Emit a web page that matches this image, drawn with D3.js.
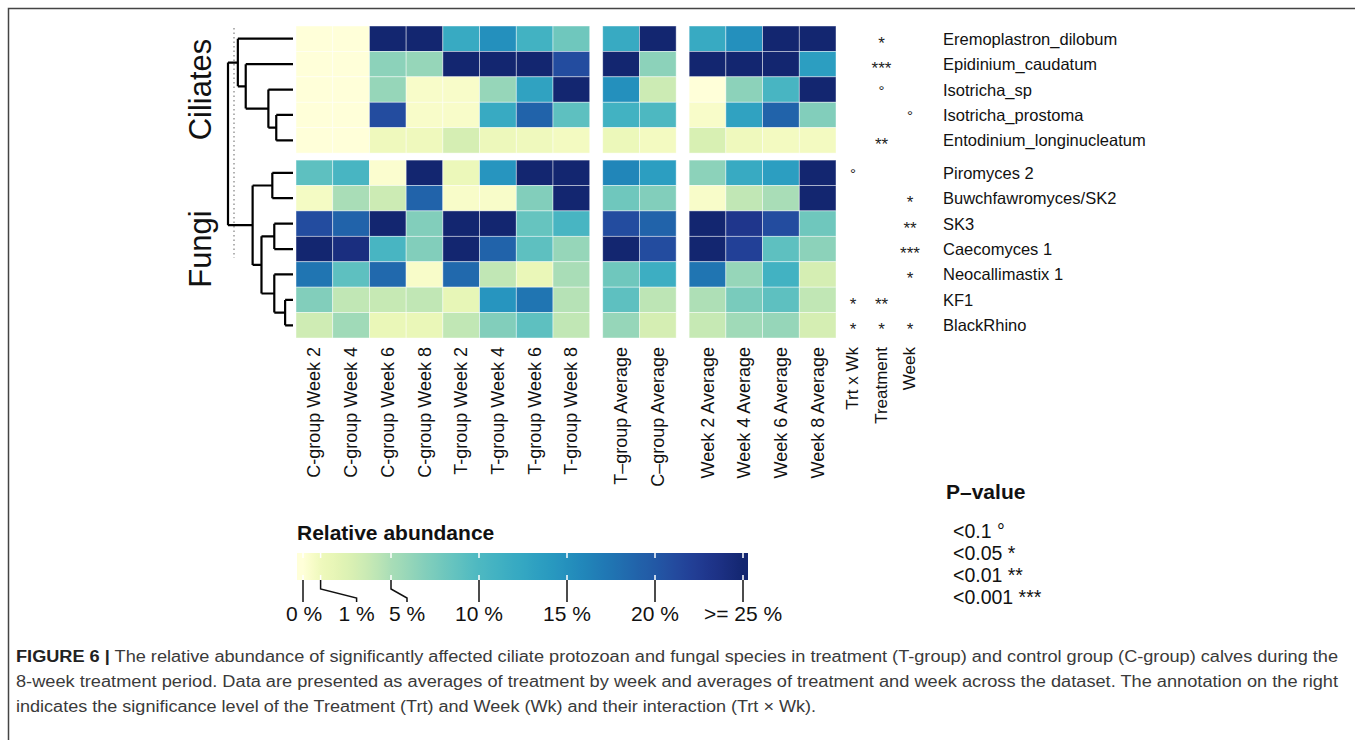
<!DOCTYPE html>
<html>
<head>
<meta charset="utf-8">
<script src="https://cdn.jsdelivr.net/npm/d3@7"></script>
<style>
  body { margin: 0; background: #fff; }
  text { font-family: "Liberation Sans", Arial, Helvetica, sans-serif; }
</style>
</head>
<body>
<div id="chart"></div>
<script>
// species (rows), top to bottom
const species = [
  "Eremoplastron_dilobum", "Epidinium_caudatum", "Isotricha_sp", "Isotricha_prostoma",
  "Entodinium_longinucleatum", "Piromyces 2", "Buwchfawromyces/SK2", "SK3",
  "Caecomyces 1", "Neocallimastix 1", "KF1", "BlackRhino"
];
const groups = ["Ciliates", "Fungi"];
const speciesGroup = [0, 0, 0, 0, 0, 1, 1, 1, 1, 1, 1, 1];

// columns and the block each belongs to
const columns = [
  "C-group Week 2", "C-group Week 4", "C-group Week 6", "C-group Week 8",
  "T-group Week 2", "T-group Week 4", "T-group Week 6", "T-group Week 8",
  "T\u2013group Average", "C\u2013group Average",
  "Week 2 Average", "Week 4 Average", "Week 6 Average", "Week 8 Average"
];
const columnBlock = [0, 0, 0, 0, 0, 0, 0, 0, 1, 1, 2, 2, 2, 2];

// relative abundance (%) (capped at 25)
const abundance = [
  [0, 0, 25, 25, 12, 15, 11, 8,     12, 25,    12, 15, 25, 25],
  [0, 0, 6.5, 6, 25, 25, 25, 21,    25, 6.5,   25, 25, 25, 13.5],
  [0, 0, 6, 0.5, 0.5, 6, 13, 25,    15, 3.5,   0, 6.5, 10.5, 25],
  [0, 0, 21, 0.5, 0.5, 12, 19, 9,   11, 10,    0.5, 13, 19, 7],
  [0, 0, 1, 1, 3, 1.2, 1, 0.8,      1.3, 0.8,  2.8, 1, 0.8, 0.8],
  [9, 10.5, 0.3, 25, 1.3, 14.5, 25, 25,  16, 13.5,  6.5, 12, 13.5, 25],
  [0.7, 5, 3.5, 19, 0.5, 0.5, 7, 25,     8, 7,      0.5, 4, 5, 25],
  [21, 19, 25, 7, 25, 25, 8.5, 10.5,     21, 19,    25, 23, 21, 8],
  [25, 24, 10.5, 7, 25, 19, 9, 6,        25, 21,    25, 22, 9, 6.5],
  [17.5, 9, 18.5, 0.5, 18.5, 4, 1.5, 5,  8, 11.5,   17.5, 6, 11, 3],
  [7, 4, 3.8, 4, 1.7, 14.5, 17.5, 4.5,   9, 4.2,    4.8, 7.5, 9, 4],
  [3.3, 5.5, 1.5, 1.5, 4, 7, 9, 4,       6, 3,      3.8, 5.5, 6, 3]
];

// significance annotations
const sigColumns = ["Trt x Wk", "Treatment", "Week"];
const sigTrtWk =     ["", "", "", "", "", "\u00b0", "", "", "", "", "*", "*"];
const sigTreatment = ["*", "***", "\u00b0", "", "**", "", "", "", "", "", "**", "*"];
const sigWeek =      ["", "", "", "\u00b0", "", "", "*", "**", "***", "*", "", "*"];

// dendrogram: merge heights, leaves by name
const tree = { h: 66, children: [
  { h: 56, children: [
    { name: "Eremoplastron_dilobum" },
    { h: 48, children: [
      { name: "Epidinium_caudatum" },
      { h: 25, children: [
        { name: "Isotricha_sp" },
        { h: 17, children: [{ name: "Isotricha_prostoma" }, { name: "Entodinium_longinucleatum" }] }
      ] }
    ] }
  ] },
  { h: 41, children: [
    { h: 21, children: [{ name: "Piromyces 2" }, { name: "Buwchfawromyces/SK2" }] },
    { h: 32, children: [
      { h: 19, children: [{ name: "SK3" }, { name: "Caecomyces 1" }] },
      { h: 19, children: [
        { name: "Neocallimastix 1" },
        { h: 8, children: [{ name: "KF1" }, { name: "BlackRhino" }] }
      ] }
    ] }
  ] }
] };

// legend
const legendTicks = [0, 1, 5, 10, 15, 20, 25];
const legendLabels = ["0 %", "1 %", "5 %", "10 %", "15 %", "20 %", ">= 25 %"];
const pTitle = "P\u2013value";
const pLabels = ["<0.1 \u00b0", "<0.05 *", "<0.01 **", "<0.001 ***"];

const captionLines = [
  " The relative abundance of significantly affected ciliate protozoan and fungal species in treatment (T-group) and control group (C-group) calves during the",
  "8-week treatment period. Data are presented as averages of treatment by week and averages of treatment and week across the dataset. The annotation on the right",
  "indicates the significance level of the Treatment (Trt) and Week (Wk) and their interaction (Trt \u00d7 Wk)."
];
const captionWidths = [1322, 1322, 800];

const width = 1355, height = 740;
const hmLeft = 296, hmRight = 836, hmTop = 26, hmBottom = 338;
const blockGap = 13, groupGap = 7;

const svg = d3.select("#chart").append("svg")
    .attr("width", width)
    .attr("height", height);

// frame
svg.append("path")
    .attr("d", `M8.5,${height} V8.5 H${width}`)
    .attr("fill", "none")
    .attr("stroke", "#444")
    .attr("stroke-width", 1.5);

// scales
const xBand = d3.scaleBand()
    .domain(d3.range(columns.length))
    .range([hmLeft, hmRight - blockGap * 2]);
const x = i => xBand(i) + columnBlock[i] * blockGap;

const yBand = d3.scaleBand()
    .domain(species)
    .range([hmTop, hmBottom - groupGap]);
const y = (name) => yBand(name) + speciesGroup[species.indexOf(name)] * groupGap;
const yMid = name => y(name) + yBand.bandwidth() / 2;

const tScale = d3.scaleLinear()
    .domain([0, 1, 5, 10, 15, 20, 25])
    .range([0, 0.1, 0.3, 0.48, 0.62, 0.77, 0.95])
    .clamp(true);
const color = v => d3.interpolateYlGnBu(tScale(v));

// heatmap cells
const cells = [];
abundance.forEach((row, r) => row.forEach((v, c) => cells.push({ r, c, v })));

svg.append("g")
  .selectAll("rect")
  .data(cells)
  .join("rect")
    .attr("x", d => x(d.c))
    .attr("y", d => y(species[d.r]))
    .attr("width", xBand.bandwidth())
    .attr("height", yBand.bandwidth())
    .attr("fill", d => color(d.v))
    .attr("stroke", "#ffffff")
    .attr("stroke-opacity", 0.55)
    .attr("stroke-width", 0.8);

// column labels
svg.append("g")
  .selectAll("text")
  .data(columns)
  .join("text")
    .attr("transform", (d, i) => `translate(${x(i) + xBand.bandwidth() / 2 + 6},${hmBottom + 9}) rotate(-90)`)
    .attr("text-anchor", "end")
    .attr("font-size", 18)
    .attr("fill", "#111")
    .text(d => d);

// significance columns
const sigX = d3.scalePoint().domain(sigColumns).range([853, 910]);
const sigData = [sigTrtWk, sigTreatment, sigWeek];

svg.append("g")
  .selectAll("text")
  .data(sigColumns)
  .join("text")
    .attr("transform", d => `translate(${sigX(d) + 5},${hmBottom + 9}) rotate(-90)`)
    .attr("text-anchor", "end")
    .attr("font-size", 17)
    .attr("fill", "#111")
    .text(d => d);

sigData.forEach((col, k) => {
  svg.append("g")
    .selectAll("text")
    .data(col)
    .join("text")
      .attr("x", sigX(sigColumns[k]))
      .attr("y", (d, i) => yMid(species[i]) + (d === "\u00b0" ? 6 : 10))
      .attr("text-anchor", "middle")
      .attr("font-size", d => d === "\u00b0" ? 15 : 17)
      .attr("fill", "#222")
      .text(d => d);
});

// row labels
svg.append("g")
  .selectAll("text")
  .data(species)
  .join("text")
    .attr("x", 943)
    .attr("y", d => yMid(d) + 6)
    .attr("font-size", 16.5)
    .attr("fill", "#111")
    .text(d => d);

// dendrogram
const hx = d3.scaleLinear().domain([0, 66]).range([293, 228]);
const root = d3.hierarchy(tree);
root.eachAfter(n => {
  n.h = n.children ? n.data.h : 0;
  n.py = n.children ? (n.children[0].py + n.children[n.children.length - 1].py) / 2 : yMid(n.data.name);
});

const dendro = svg.append("g")
    .attr("fill", "none")
    .attr("stroke", "#000")
    .attr("stroke-width", 2.2);

// dotted guide
dendro.append("line")
    .attr("x1", 234).attr("x2", 234)
    .attr("y1", hmTop + 2).attr("y2", 258)
    .attr("stroke", "#999")
    .attr("stroke-width", 1.5)
    .attr("stroke-dasharray", "1.5,3");

dendro.selectAll("path.link")
  .data(root.descendants().filter(n => n.children))
  .join("path")
    .attr("class", "link")
    .attr("d", n => {
      const xn = hx(n.h);
      let p = `M${xn},${n.children[0].py} V${n.children[n.children.length - 1].py}`;
      n.children.forEach(c => { p += ` M${xn},${c.py} H${hx(c.h)}`; });
      return p;
    });

// group labels
const groupMid = groups.map((g, k) => {
  const names = species.filter((s, i) => speciesGroup[i] === k);
  return (y(names[0]) + y(names[names.length - 1]) + yBand.bandwidth()) / 2;
});
svg.append("g")
  .selectAll("text")
  .data(groups)
  .join("text")
    .attr("transform", (d, k) => `translate(211,${groupMid[k]}) rotate(-90)`)
    .attr("text-anchor", "middle")
    .attr("font-size", 31)
    .attr("fill", "#111")
    .text(d => d);

// colour legend
const lx = d3.scaleLinear().domain([0, 25]).range([303, 743]);
const barX0 = 297, barX1 = 748, barY = 553, barH = 27;

const grad = svg.append("defs").append("linearGradient")
    .attr("id", "abund")
    .attr("x1", "0%").attr("x2", "100%");
grad.append("stop").attr("offset", 0).attr("stop-color", color(0));
d3.range(0, 25.01, 0.25).forEach(v => {
  grad.append("stop")
      .attr("offset", (lx(v) - barX0) / (barX1 - barX0))
      .attr("stop-color", color(v));
});
grad.append("stop").attr("offset", 1).attr("stop-color", color(25));

svg.append("text")
    .attr("x", barX0)
    .attr("y", 540)
    .attr("font-size", 21)
    .attr("font-weight", "bold")
    .attr("fill", "#111")
    .text("Relative abundance");

svg.append("rect")
    .attr("x", barX0).attr("y", barY)
    .attr("width", barX1 - barX0).attr("height", barH)
    .attr("fill", "url(#abund)");

const legendTick = svg.append("g");
legendTick.selectAll("path.white")
  .data(legendTicks)
  .join("path")
    .attr("class", "white")
    .attr("d", d => `M${lx(d)},${barY} v5 M${lx(d)},${barY + barH} v-5`)
    .attr("stroke", "#fff")
    .attr("stroke-width", 1.5);

const labelShift = { 0: 1, 1: 36, 5: 16 };
const labelX = d => lx(d) + (labelShift[d] || 0);

legendTick.selectAll("path.lead")
  .data(legendTicks)
  .join("path")
    .attr("class", "lead")
    .attr("d", d => labelShift[d] > 5
      ? `M${lx(d)},${barY + barH} V${barY + barH + 9} L${labelX(d)},${barY + barH + 18} V${barY + barH + 22}`
      : `M${lx(d)},${barY + barH} V${barY + barH + 22}`)
    .attr("fill", "none")
    .attr("stroke", "#111")
    .attr("stroke-width", 1.5);

legendTick.selectAll("text")
  .data(legendTicks)
  .join("text")
    .attr("x", d => labelX(d))
    .attr("y", 621)
    .attr("text-anchor", "middle")
    .attr("font-size", 21)
    .attr("fill", "#111")
    .text((d, i) => legendLabels[i]);

// p-value legend
svg.append("text")
    .attr("x", 946).attr("y", 499)
    .attr("font-size", 21)
    .attr("font-weight", "bold")
    .attr("fill", "#111")
    .text(pTitle);

svg.append("g")
  .selectAll("text")
  .data(pLabels)
  .join("text")
    .attr("x", 953)
    .attr("y", (d, i) => 538 + i * 22)
    .attr("font-size", 19.5)
    .attr("fill", "#111")
    .text(d => d);

// caption
const cap = svg.append("g")
    .attr("font-size", 16)
    .attr("fill", "#3a3a3a");
captionLines.forEach((line, i) => {
  const t = cap.append("text")
      .attr("x", 16)
      .attr("y", 662 + i * 25)
      .attr("textLength", captionWidths[i])
      .attr("lengthAdjust", "spacingAndGlyphs");
  if (i === 0) t.append("tspan").attr("font-weight", "bold").attr("fill", "#222").text("FIGURE 6 |");
  t.append("tspan").text(line);
});
</script>
</body>
</html>
